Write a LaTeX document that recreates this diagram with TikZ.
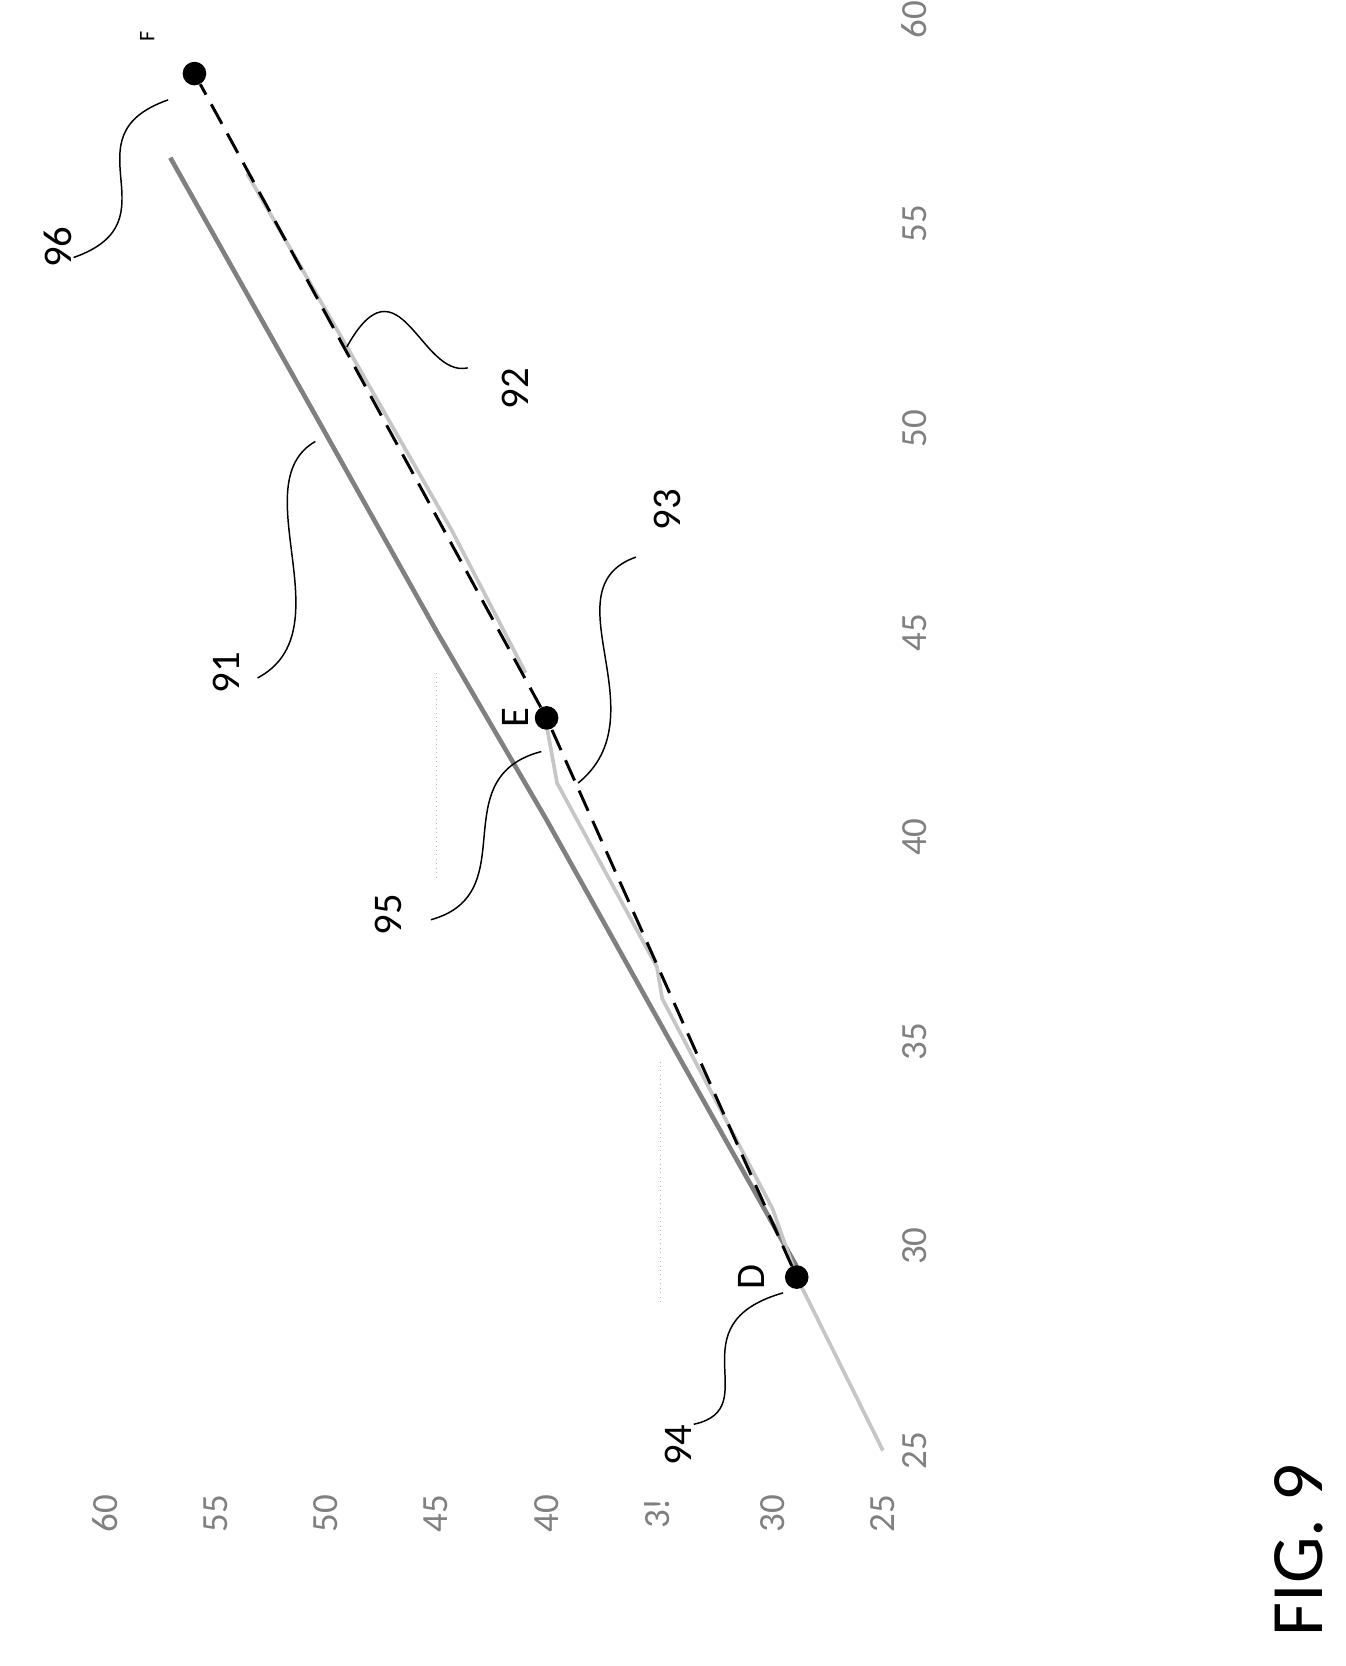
\documentclass[tikz,border=0pt]{standalone}
\usepackage{fontspec}
\setmainfont{Carlito}
\begin{document}
\begin{tikzpicture}[x=0.02cm,y=-0.02cm,
  ticklbl/.style={rotate=90,text=gray,font=\fontsize{20}{22}\selectfont},
  reflbl/.style={rotate=90,font=\fontsize{22}{24}\selectfont},
  pt/.style={circle,fill=black,inner sep=0pt,minimum size=0.45cm},
  leader/.style={thick}]
\useasboundingbox (0,0) rectangle (1280,1585);
	%Escalas
\foreach \v/\x in {25/870,30/870,35/870,40/870,45/870,50/870,55/870,60/870}
  \node[ticklbl] (b\v) at (\x,{1380-(\v-25)*38.9}) {\v};
\foreach \v/\x in {60/100,55/205,50/310,45/415,40/520,30/735,25/840}
  \node[ticklbl] (l\v) at (\x,1440) {\v};
\node[ticklbl] (l35) at (625,1440) {3!};
	%Linhas auxiliares
\draw[gray!60,dotted] (628,1010) -- (628,1240);
\draw[gray!60,dotted] (415,640) -- (415,835);
	%Curvas
\draw[line width=2.5pt,gray] (758,1205) -- (640,995) -- (520,780) -- (415,600) -- (300,395) -- (162,150);
\draw[line width=2pt,gray!45] (840,1380) -- (758,1215) -- (735,1150) -- (630,950) -- (625,920) -- (530,745) -- (520,690)
  (500,640) -- (430,505) -- (330,330) -- (235,165);
	%Pontos
\node[pt] (D) at (758,1215) {};
\node[pt] (E) at (520,683) {};
\node[pt] (F) at (185,70) {};
\draw[line width=1.6pt,dash pattern=on 12pt off 6pt] (D) -- (E) -- (F);
\node[reflbl] (lD) at (715,1215) {D};
\node[reflbl] (lE) at (490,683) {E};
\node[rotate=90,font=\fontsize{12}{14}\selectfont] (lF) at (140,35) {F};
	%Referências
\node[reflbl] (r96) at (55,235) {96};
\node[reflbl] (r92) at (490,370) {92};
\node[reflbl] (r93) at (635,485) {93};
\node[reflbl] (r91) at (215,640) {91};
\node[reflbl] (r95) at (370,870) {95};
\node[reflbl] (r94) at (645,1375) {94};
\coordinate (c96) at (160,95);
\coordinate (c92) at (330,330);
\coordinate (c91) at (300,420);
\coordinate (c93) at (550,745);
\coordinate (c95) at (515,715);
\coordinate (c94) at (745,1230);
\draw[leader] (c96) .. controls (60,130) and (170,210) .. (70,245);
\draw[leader] (c92) .. controls (380,240) and (400,360) .. (445,350);
\draw[leader] (c91) .. controls (230,460) and (330,600) .. (245,645);
\draw[leader] (c93) .. controls (630,680) and (520,560) .. (605,530);
\draw[leader] (c95) .. controls (420,740) and (500,850) .. (410,875);
\draw[leader] (c94) .. controls (640,1260) and (730,1340) .. (660,1355);
\node[rotate=90,font=\fontsize{40}{42}\selectfont] (fig) at (1236,1475) {FIG. 9};
\end{tikzpicture}
\end{document}
